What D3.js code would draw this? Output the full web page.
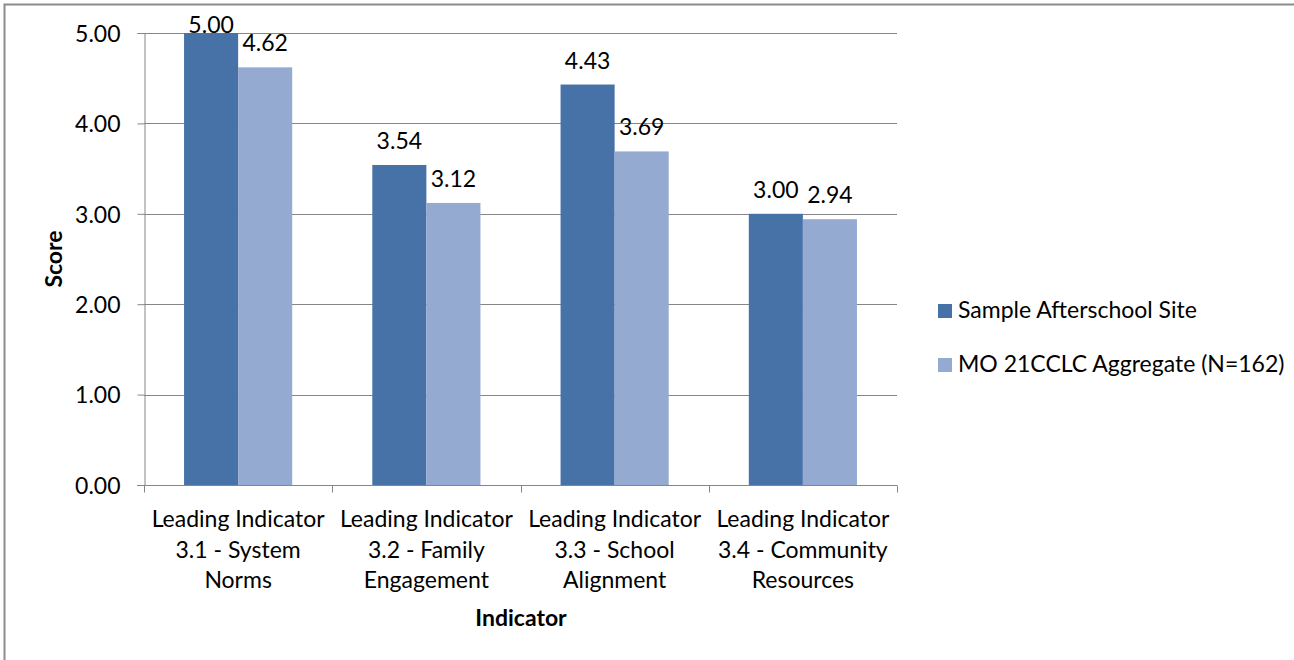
<!DOCTYPE html>
<html>
<head>
	<script src="https://d3js.org/d3.v7.min.js"></script>
	<meta charset="UTF-8">
	<style>
		body{ margin:0; background-color:#ffffff; }
		text{ font-family: Lato, "Open Sans", sans-serif; fill:#000; }
	</style>
</head>
<body>
	<div class="chart"></div>
	<script type="text/javascript">
		// data
		var categories = [
			["Leading Indicator", "3.1 - System", "Norms"],
			["Leading Indicator", "3.2 - Family", "Engagement"],
			["Leading Indicator", "3.3 - School", "Alignment"],
			["Leading Indicator", "3.4 - Community", "Resources"]
		];
		var seriesNames = ["Sample Afterschool Site", "MO 21CCLC Aggregate (N=162)"];
		var siteScores = [5.00, 3.54, 4.43, 3.00];
		var aggScores = [4.62, 3.12, 3.69, 2.94];
		var yTicks = [0, 1, 2, 3, 4, 5];
		var colors = ["#4672A7", "#95AAD1"];

		var W = 1294, H = 660;
		var l = 144, r = 897, t = 33, b = 485;
		var fs = "23px";

		var svg = d3.select("div.chart").append("svg")
					.attr("width", W).attr("height", H);

		// outer frame
		svg.append("rect").attr("x", 4.5).attr("y", 4.5)
			.attr("width", W + 10).attr("height", H + 10)
			.attr("fill", "none").attr("stroke", "#8c8c8c").attr("stroke-width", 2);

		var xScale = d3.scaleBand().domain(d3.range(categories.length)).range([l, r]);
		var yScale = d3.scaleLinear().domain([0, 5]).range([b, t]);
		var inner = d3.scaleBand().domain([0, 1]).range([0, xScale.bandwidth()]).paddingOuter(40 / 54).paddingInner(0);

		// gridlines
		svg.append("g").selectAll("line").data(yTicks.slice(1)).enter().append("line")
			.attr("x1", l).attr("x2", r)
			.attr("y1", function(d){ return Math.round(yScale(d)) + 0.5; })
			.attr("y2", function(d){ return Math.round(yScale(d)) + 0.5; })
			.attr("stroke", "#868686").attr("stroke-width", 1);

		// bars
		var series = [siteScores, aggScores];
		series.forEach(function(vals, s){
			svg.append("g").selectAll("rect").data(vals).enter().append("rect")
				.attr("x", function(d, i){ return xScale(i) + inner(s); })
				.attr("y", function(d){ return yScale(d); })
				.attr("width", inner.bandwidth())
				.attr("height", function(d){ return b - yScale(d); })
				.attr("fill", colors[s]);

			svg.append("g").selectAll("text").data(vals).enter().append("text")
				.attr("text-anchor", "middle")
				.attr("x", function(d, i){ return xScale(i) + inner(s) + inner.bandwidth() / 2; })
				.attr("y", function(d){ return Math.max(yScale(d) - 16, 33); })
				.attr("font-size", fs)
				.text(function(d){ return d.toFixed(2); });
		});

		// y axis
		var yAxis = d3.axisLeft(yScale).tickValues(yTicks).tickFormat(d3.format(".2f")).tickSize(7).tickPadding(17);
		var gy = svg.append("g").attr("transform", "translate(" + (l + 0.5) + ",0)").call(yAxis);
		gy.selectAll("text").attr("font-size", fs).attr("dy", "0.36em").style("font-family", "Lato, sans-serif");
		gy.select(".domain").attr("stroke", "#868686");
		gy.selectAll(".tick line").attr("stroke", "#868686");

		// x axis
		var xTicks = d3.scaleLinear().domain([0, 4]).range([l, r]);
		var gx = svg.append("g").attr("transform", "translate(0," + (b + 0.5) + ")");
		gx.append("line").attr("x1", l - 7).attr("x2", r).attr("stroke", "#868686");
		gx.selectAll("line.tk").data(d3.range(5)).enter().append("line")
			.attr("class", "tk")
			.attr("x1", function(d){ return Math.round(xTicks(d)) + 0.5; })
			.attr("x2", function(d){ return Math.round(xTicks(d)) + 0.5; })
			.attr("y1", 0).attr("y2", 7).attr("stroke", "#868686");

		var labels = svg.append("g").selectAll("text").data(categories).enter().append("text")
			.attr("text-anchor", "middle")
			.attr("font-size", fs)
			.attr("x", function(d, i){ return xScale(i) + xScale.bandwidth() / 2; })
			.attr("y", 527);
		labels.selectAll("tspan").data(function(d){ return d; }).enter().append("tspan")
			.attr("x", function(){ return d3.select(this.parentNode).attr("x"); })
			.attr("dy", function(d, j){ return j === 0 ? 0 : 30.5; })
			.text(function(d){ return d; });

		// axis titles
		svg.append("text").attr("text-anchor", "middle").attr("font-size", fs).attr("font-weight", "bold")
			.attr("x", 521).attr("y", 626).text("Indicator");
		svg.append("text").attr("text-anchor", "middle").attr("font-size", fs).attr("font-weight", "bold")
			.attr("transform", "translate(62,259) rotate(-90)").text("Score");

		// legend
		var lg = svg.append("g").selectAll("g").data(seriesNames).enter().append("g")
			.attr("transform", function(d, i){ return "translate(938," + (304 + i * 54) + ")"; });
		lg.append("rect").attr("width", 14).attr("height", 14).attr("fill", function(d, i){ return colors[i]; });
		lg.append("text").attr("x", 20).attr("y", 14).attr("font-size", fs).text(function(d){ return d; });
	</script>
</body>
</html>
